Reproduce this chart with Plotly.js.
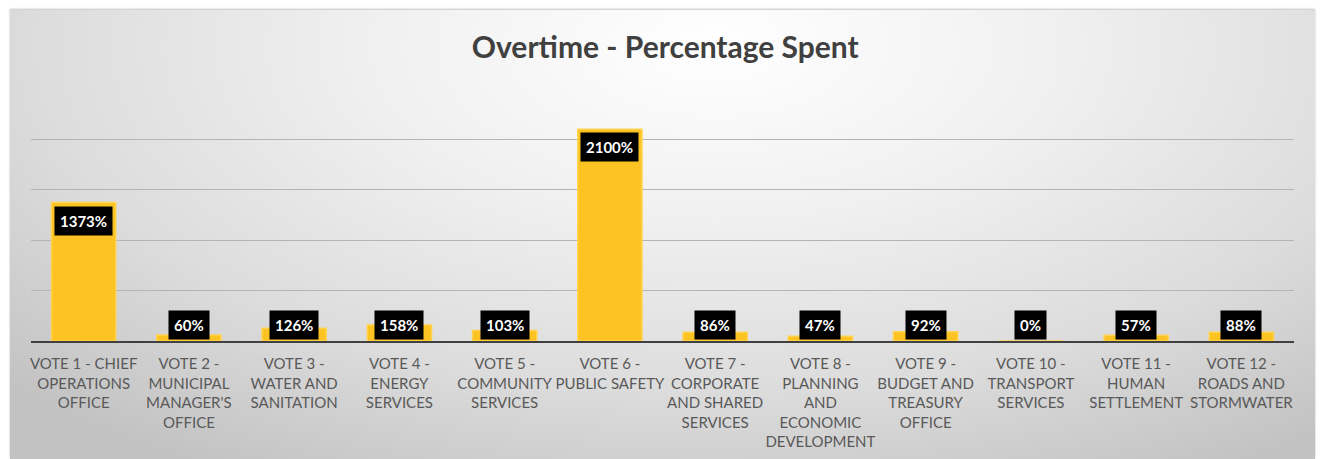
<!DOCTYPE html>
<html>
<head>
<meta charset="utf-8">
<script src="https://cdn.plot.ly/plotly-3.0.1.min.js"></script>
<style>
  html, body { margin:0; padding:0; background:#ffffff; width:1320px; height:459px; overflow:hidden; }
  #bg { position:absolute; left:10px; top:10px; width:1305px; height:449px;
        background: radial-gradient(ellipse 75% 110% at 54% 8%, #ffffff 0%, #f0f0f0 35%, #dcdcdc 70%, #c2c2c2 100%);
        box-shadow: 0 -1px 2px rgba(0,0,0,0.25); }
  #chart { position:absolute; left:0; top:0; width:1320px; height:459px; }
</style>
</head>
<body>
<div id="bg"></div>
<div id="chart"></div>
<script>
const categories = [
  "VOTE 1 - CHIEF OPERATIONS OFFICE",
  "VOTE 2 - MUNICIPAL MANAGER'S OFFICE",
  "VOTE 3 - WATER AND SANITATION",
  "VOTE 4 - ENERGY SERVICES",
  "VOTE 5 - COMMUNITY SERVICES",
  "VOTE 6 - PUBLIC SAFETY",
  "VOTE 7 - CORPORATE AND SHARED SERVICES",
  "VOTE 8 - PLANNING AND ECONOMIC DEVELOPMENT",
  "VOTE 9 - BUDGET AND TREASURY OFFICE",
  "VOTE 10 - TRANSPORT SERVICES",
  "VOTE 11 - HUMAN SETTLEMENT",
  "VOTE 12 - ROADS AND STORMWATER"
];
const tickLabels = [
  "VOTE 1 - CHIEF<br>OPERATIONS<br>OFFICE",
  "VOTE 2 -<br>MUNICIPAL<br>MANAGER'S<br>OFFICE",
  "VOTE 3 -<br>WATER AND<br>SANITATION",
  "VOTE 4 -<br>ENERGY<br>SERVICES",
  "VOTE 5 -<br>COMMUNITY<br>SERVICES",
  "VOTE 6 -<br>PUBLIC SAFETY",
  "VOTE 7 -<br>CORPORATE<br>AND SHARED<br>SERVICES",
  "VOTE 8 -<br>PLANNING<br>AND<br>ECONOMIC<br>DEVELOPMENT",
  "VOTE 9 -<br>BUDGET AND<br>TREASURY<br>OFFICE",
  "VOTE 10 -<br>TRANSPORT<br>SERVICES",
  "VOTE 11 -<br>HUMAN<br>SETTLEMENT",
  "VOTE 12 -<br>ROADS AND<br>STORMWATER"
];
const percentSpent = [1373, 60, 126, 158, 103, 2100, 86, 47, 92, 0, 57, 88];

const labelFloor = 340; // labels never drop below this level (inside-end clamp)

const trace = {
  type: 'bar',
  x: categories,
  y: percentSpent,
  marker: { color: '#FDC322', line: { color: '#FFD34F', width: 1.5 } },
  hoverinfo: 'x+y'
};

const annotations = categories.map((c, i) => ({
  x: c, xref: 'x',
  y: Math.max(percentSpent[i], labelFloor), yref: 'y',
  yanchor: 'top', yshift: -3,
  text: '<b>' + percentSpent[i] + '%</b>',
  showarrow: false,
  bgcolor: '#000000',
  borderpad: 5,
  font: { family: 'Lato, "Open Sans", sans-serif', size: 15, color: '#ffffff' }
}));

const layout = {
  width: 1320, height: 459,
  paper_bgcolor: 'rgba(0,0,0,0)',
  plot_bgcolor: 'rgba(0,0,0,0)',
  margin: { l: 31, r: 26, t: 89, b: 118 },
  title: {
    text: '<b>Overtime - Percentage Spent</b>',
    x: 0.504, xanchor: 'center', y: 0.897, yanchor: 'middle',
    font: { family: 'Lato, "Open Sans", sans-serif', size: 30, color: '#404040' }
  },
  bargap: 0.39,
  xaxis: {
    type: 'category',
    tickvals: categories, ticktext: tickLabels,
    tickangle: 0,
    ticks: 'outside', ticklen: 8, tickcolor: 'rgba(0,0,0,0)',
    showline: true, linecolor: '#404040', linewidth: 2,
    tickfont: { family: 'Lato, "Open Sans", sans-serif', size: 15, color: '#595959' },
    fixedrange: true
  },
  yaxis: {
    range: [0, 2500],
    dtick: 500,
    showticklabels: false,
    showgrid: true, gridcolor: '#b4b4b4', gridwidth: 1,
    zeroline: false,
    fixedrange: true
  },
  annotations: annotations,
  showlegend: false
};

Plotly.newPlot('chart', [trace], layout, { displayModeBar: false, staticPlot: true });
</script>
</body>
</html>
